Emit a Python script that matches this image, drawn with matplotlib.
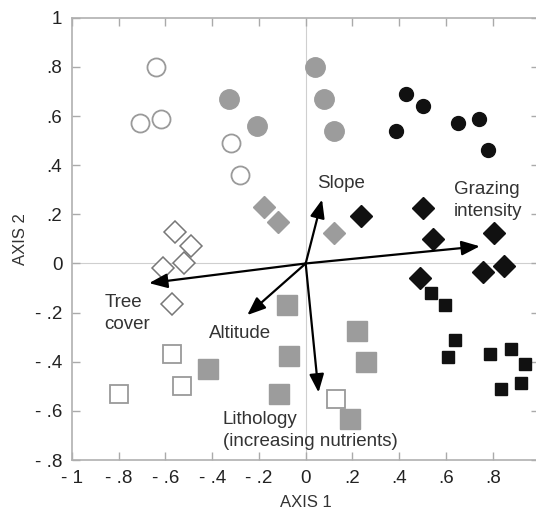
import matplotlib
matplotlib.use('Agg')
import matplotlib.pyplot as plt

plt.rcParams['font.family'] = ['Liberation Sans', 'DejaVu Sans']

# site scores, grouped by symbol
open_circle_x = [-0.64, -0.71, -0.62, -0.32, -0.28]
open_circle_y = [0.80, 0.57, 0.59, 0.49, 0.36]
gray_circle_x = [-0.33, -0.21, 0.04, 0.08, 0.12]
gray_circle_y = [0.67, 0.56, 0.80, 0.67, 0.54]
black_circle_x = [0.43, 0.50, 0.385, 0.65, 0.74, 0.78]
black_circle_y = [0.69, 0.64, 0.54, 0.57, 0.59, 0.46]

open_diamond_x = [-0.56, -0.49, -0.61, -0.52, -0.57]
open_diamond_y = [0.13, 0.07, -0.02, 0.0, -0.165]
gray_diamond_x = [-0.18, -0.12, 0.12]
gray_diamond_y = [0.23, 0.17, 0.125]
black_diamond_x = [0.235, 0.50, 0.545, 0.805, 0.49, 0.76, 0.85]
black_diamond_y = [0.195, 0.225, 0.10, 0.125, -0.06, -0.035, -0.01]

gray_square_x = [-0.42, -0.08, 0.22, -0.07, 0.26, -0.115, 0.19]
gray_square_y = [-0.43, -0.17, -0.275, -0.375, -0.40, -0.53, -0.635]
open_square_x = [-0.57, -0.53, -0.80, 0.13]
open_square_y = [-0.37, -0.50, -0.53, -0.55]
black_square_x = [0.535, 0.595, 0.64, 0.61, 0.79, 0.88, 0.94, 0.92, 0.835]
black_square_y = [-0.12, -0.17, -0.31, -0.38, -0.37, -0.35, -0.41, -0.485, -0.51]

# environmental vectors
vec_names = ['Slope', 'Grazing\nintensity', 'Tree\ncover', 'Altitude',
             'Lithology\n(increasing nutrients)']
vec_x = [0.07, 0.745, -0.67, -0.25, 0.055]
vec_y = [0.26, 0.07, -0.08, -0.21, -0.525]
label_x = [0.05, 0.635, -0.86, -0.415, -0.355]
label_y = [0.325, 0.255, -0.205, -0.285, -0.68]

x_ticks = [-1, -0.8, -0.6, -0.4, -0.2, 0, 0.2, 0.4, 0.6, 0.8, 1]
x_ticklabels = ['- 1', '- .8', '- .6', '- .4', '- .2', '0', '.2', '.4', '.6', '.8', '']
y_ticks = [-0.8, -0.6, -0.4, -0.2, 0, 0.2, 0.4, 0.6, 0.8, 1]
y_ticklabels = ['- .8', '- .6', '- .4', '- .2', '0', '.2', '.4', '.6', '.8', '1']

edge_gray = '#9a9a9a'
fill_gray = '#9c9c9c'
dark = '#111111'

fig = plt.figure(figsize=(5.36, 5.16), dpi=100)
ax = fig.add_axes([0.1343, 0.1085, 0.872, 0.857])

ax.axhline(0, color='#cfcfcf', lw=0.8, zorder=0)
ax.axvline(0, color='#cfcfcf', lw=0.8, zorder=0)

ax.plot(open_circle_x, open_circle_y, 'o', ms=13, mfc='white', mec=edge_gray, mew=1.3, ls='none')
ax.plot(gray_circle_x, gray_circle_y, 'o', ms=14, mfc=fill_gray, mec=fill_gray, ls='none')
ax.plot(black_circle_x, black_circle_y, 'o', ms=10, mfc=dark, mec=dark, ls='none')

ax.plot(open_diamond_x, open_diamond_y, 'D', ms=11.5, mfc='white', mec='#777777', mew=1.1, ls='none')
ax.plot(gray_diamond_x, gray_diamond_y, 'D', ms=11.5, mfc=fill_gray, mec=fill_gray, ls='none')
ax.plot(black_diamond_x, black_diamond_y, 'D', ms=11.5, mfc=dark, mec=dark, ls='none')

ax.plot(gray_square_x, gray_square_y, 's', ms=14, mfc=fill_gray, mec=fill_gray, ls='none')
ax.plot(open_square_x, open_square_y, 's', ms=12.5, mfc='white', mec=edge_gray, mew=1.3, ls='none')
ax.plot(black_square_x, black_square_y, 's', ms=8.5, mfc=dark, mec=dark, ls='none')

for vx, vy in zip(vec_x, vec_y):
    ax.annotate('', xy=(vx, vy), xytext=(0, 0),
                arrowprops=dict(arrowstyle='-|>,head_length=0.55,head_width=0.22',
                                color='black', lw=1.6, shrinkA=0, shrinkB=0,
                                mutation_scale=20))

for name, lx, ly in zip(vec_names, label_x, label_y):
    ax.text(lx, ly, name, fontsize=13.5, color='#333333', ha='left', va='center',
            linespacing=1.4)

ax.set_xlim(-1, 1)
ax.set_ylim(-0.8, 1)
ax.set_xticks(x_ticks)
ax.set_xticklabels(x_ticklabels)
ax.set_yticks(y_ticks)
ax.set_yticklabels(y_ticklabels)
ax.tick_params(direction='in', length=6, width=1, color='#aaaaaa',
               top=True, right=True, labelsize=13.5, labelcolor='#222222', pad=7)

for sp in ax.spines.values():
    sp.set_color('#b0b0b0')
    sp.set_linewidth(1.2)

ax.set_xlabel('AXIS 1', fontsize=12, color='#333333', labelpad=6)
ax.set_ylabel('AXIS 2', fontsize=12, color='#333333', labelpad=5)

fig.savefig('out.png', dpi=100)
